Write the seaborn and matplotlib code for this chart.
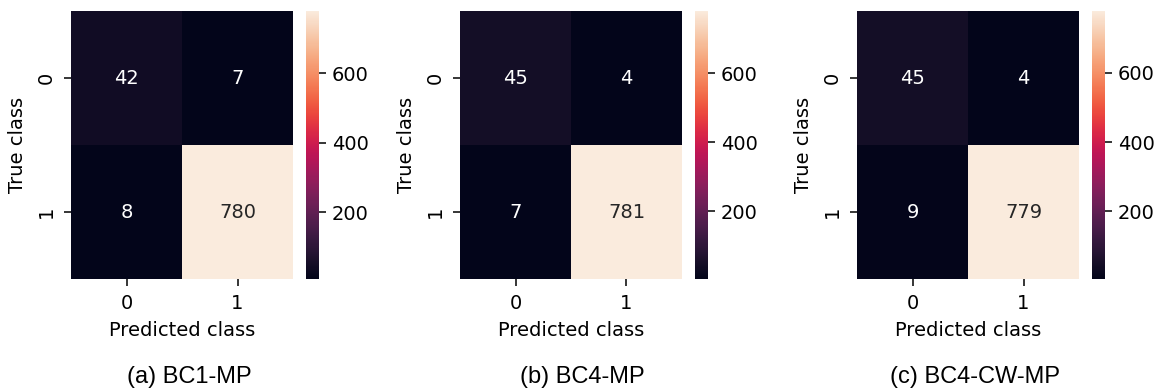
import numpy as np
import matplotlib
matplotlib.use("Agg")
import matplotlib.pyplot as plt
import seaborn as sns

# confusion matrices, rows = true class, columns = predicted class
cm_bc1_mp = [[42, 7], [8, 780]]
cm_bc4_mp = [[45, 4], [7, 781]]
cm_bc4_cw_mp = [[45, 4], [9, 779]]
class_labels = ["0", "1"]
captions = ["(a) BC1-MP", "(b) BC4-MP", "(c) BC4-CW-MP"]
cbar_ticks = [200, 400, 600]

matrices = [cm_bc1_mp, cm_bc4_mp, cm_bc4_cw_mp]

fig = plt.figure(figsize=(11.64, 3.92), dpi=100)

heat_lefts = [71, 460, 857]
cbar_lefts = [306, 695, 1092]
caption_x = [189, 582, 975]
W, H = 1164, 392

for cm, hl, cl, cx, cap in zip(matrices, heat_lefts, cbar_lefts, caption_x, captions):
    ax = fig.add_axes([hl / W, (H - 279) / H, 222 / W, 268 / H])
    cax = fig.add_axes([cl / W, (H - 279) / H, 13 / W, 268 / H])
    sns.heatmap(np.array(cm), annot=True, fmt="d", cmap="rocket", ax=ax, cbar_ax=cax,
                xticklabels=class_labels, yticklabels=class_labels,
                annot_kws={"fontsize": 14})
    ax.set_xlabel("Predicted class", fontsize=14, labelpad=6)
    ax.set_ylabel("True class", fontsize=14, labelpad=7)
    ax.tick_params(axis="both", labelsize=14, length=4.8, width=1.1, pad=6)
    plt.setp(ax.get_yticklabels(), rotation=90, va="center")
    cax.set_yticks(cbar_ticks)
    cax.tick_params(labelsize=14, length=4.8, width=1.1, pad=4.5)
    fig.text(cx / W, 15 / H, cap, ha="center", va="center", fontsize=17,
             family="Liberation Sans")

fig.savefig("out.png", dpi=100)
